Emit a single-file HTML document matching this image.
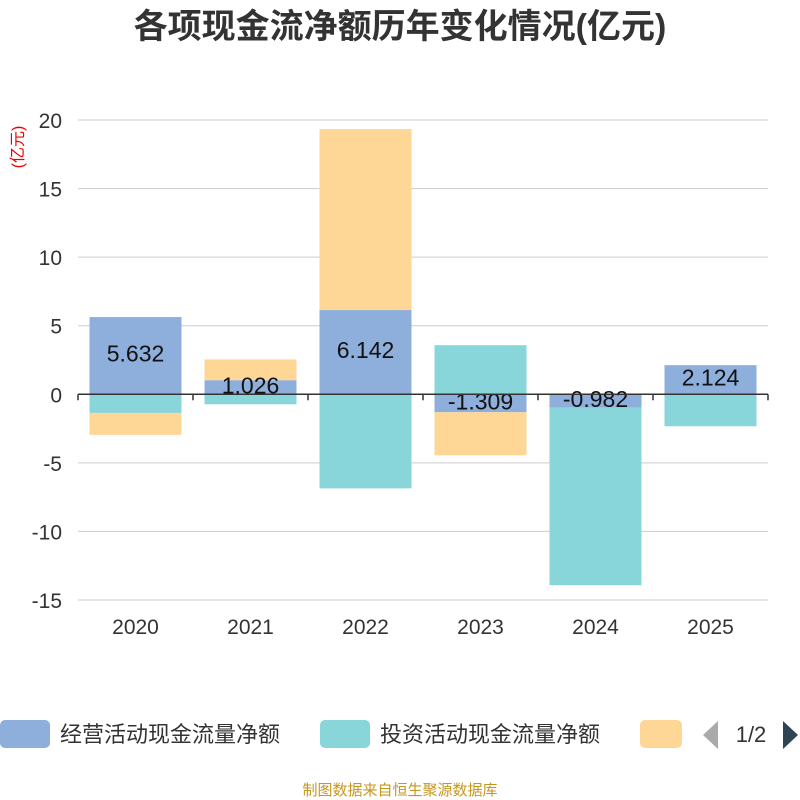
<!DOCTYPE html>
<html><head><meta charset="utf-8">
<style>
html,body{margin:0;padding:0;background:#fff;width:800px;height:800px;overflow:hidden;font-family:"Liberation Sans","Noto Sans CJK SC",sans-serif;}
</style></head>
<body>
<svg id="chart" width="800" height="800" xmlns="http://www.w3.org/2000/svg" font-family="Liberation Sans, Noto Sans CJK SC, sans-serif">
<text x="400" y="38" text-anchor="middle" font-size="34" font-weight="bold" fill="#333">各项现金流净额历年变化情况(亿元)</text>
<text transform="translate(23,147) rotate(-90)" text-anchor="middle" font-size="16" fill="#e00">(亿元)</text>
<g id="grid"></g><g id="bars"></g><g id="axis"></g>
<g>
<rect x="0" y="720" width="50" height="28" rx="5" fill="#8eaedb"/>
<text x="60" y="742" font-size="22" fill="#333">经营活动现金流量净额</text>
<rect x="320" y="720" width="50" height="28" rx="5" fill="#88d6d9"/>
<text x="380" y="742" font-size="22" fill="#333">投资活动现金流量净额</text>
<rect x="640" y="720" width="42" height="28" rx="5" fill="#fed797"/>
<polygon points="718,721 718,749 703,735" fill="#aaa"/>
<text x="751" y="742" text-anchor="middle" font-size="22" fill="#333">1/2</text>
<polygon points="783,721 783,749 798,735" fill="#2f4554"/>
</g>
<text x="400" y="795" text-anchor="middle" font-size="15" fill="#c8961e">制图数据来自恒生聚源数据库</text>
</svg>
<script>
const categories=["2020","2021","2022","2023","2024","2025"];
const operating=[5.632,1.026,6.142,-1.309,-0.982,2.124];
const investing=[-1.36,-0.73,-6.86,3.58,-12.94,-2.33];
const financing=[-1.6,1.52,13.2,-3.14,0,0];
const yTicks=[20,15,10,5,0,-5,-10,-15];
const NS="http://www.w3.org/2000/svg";
const x0=78,x1=768,yTop=120,yBot=600,yMax=20,yMin=-15;
const y=v=>yTop+(yMax-v)/(yMax-yMin)*(yBot-yTop);
const band=(x1-x0)/categories.length;
const xc=i=>x0+band*(i+0.5);
function mk(tag,attrs,parent){const e=document.createElementNS(NS,tag);for(const k in attrs)e.setAttribute(k,attrs[k]);parent.appendChild(e);return e;}
const grid=document.getElementById('grid'),bars=document.getElementById('bars'),axis=document.getElementById('axis');
yTicks.forEach(t=>{
  const l=mk('line',{x1:x0,x2:x1,y1:y(t),y2:y(t),stroke:'#ccc','stroke-width':1},grid);
  
  
  const tx=mk('text',{x:62,y:y(t)+8,'text-anchor':'end','font-size':21,fill:'#333'},axis);
  tx.textContent=t;
  
  
});
const series=[[operating,'#8eaedb','operating'],[investing,'#88d6d9','investing'],[financing,'#fed797','financing']];
categories.forEach((c,i)=>{
  let pos=0,neg=0;
  series.forEach(([arr,col,name])=>{
    const v=arr[i]; if(!v) return;
    let a,b;
    if(v>=0){a=pos;b=pos+v;pos=b;}else{a=neg;b=neg+v;neg=b;}
    const top=y(Math.max(a,b)),h=Math.abs(y(a)-y(b));
    const r=mk('rect',{x:xc(i)-46,y:top,width:92,height:h,fill:col},bars);
    
    
  });
  const lv=operating[i];
  const lt=mk('text',{x:xc(i),y:y(lv/2)+6,'text-anchor':'middle','font-size':23,fill:'#111'},bars);
  lt.textContent=lv.toFixed(3);
  
  
  const tx=mk('text',{x:xc(i),y:634,'text-anchor':'middle','font-size':21,fill:'#333'},axis);
  tx.textContent=c;
  
  
});
const al=mk('line',{x1:x0,x2:x1,y1:y(0),y2:y(0),stroke:'#333','stroke-width':1.5},axis);


for(let i=0;i<=categories.length;i++){
  const tk=mk('line',{x1:x0+band*i,x2:x0+band*i,y1:y(0),y2:y(0)+6,stroke:'#333','stroke-width':1.5},axis);
  
  
}
</script>
</body></html>
